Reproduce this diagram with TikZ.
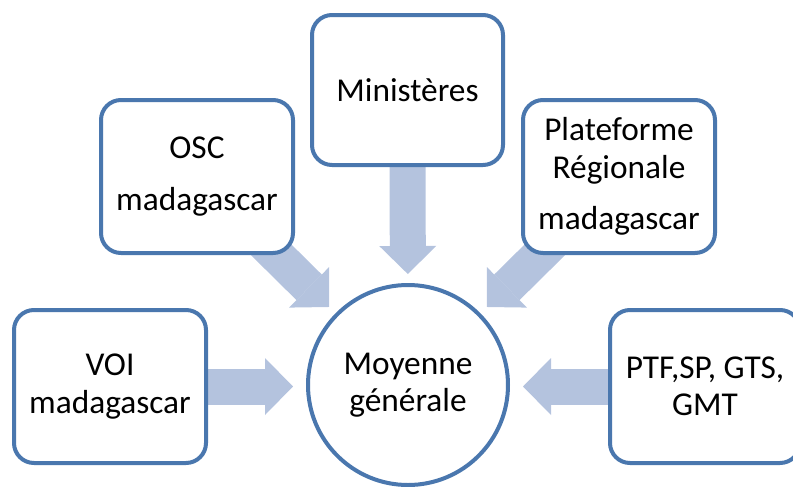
\documentclass[tikz,border=0pt]{standalone}
\usepackage{fontspec}
\setmainfont{Carlito}
\usetikzlibrary{positioning}
\usetikzlibrary{arrows.meta}
\usetikzlibrary{backgrounds}
\definecolor{boxblue}{HTML}{4A77AE}
\definecolor{arrowblue}{HTML}{B4C3DE}

\begin{document}
\begin{tikzpicture}[
    x=0.75pt, y=-0.75pt,
    font=\fontsize{25pt}{28pt}\selectfont
]
\tikzset{
    boxnode/.style = {rectangle, rounded corners=15pt, draw=boxblue, line width=3pt, fill=white, align=center, minimum width=144pt, minimum height=114.75pt, inner sep=0pt},
    circnode/.style = {circle, draw=boxblue, line width=3pt, fill=white, align=center, minimum size=150pt, inner sep=0pt},
    edgea/.style = {draw=arrowblue, line width=27pt, -{Triangle[length=21pt,width=42.75pt,line width=0pt]}}
}
\useasboundingbox (0,0) rectangle (793,486);
\node[circnode] at (408,385) (mo) {Moyenne\\générale};
\node[boxnode, minimum width=143.25pt, minimum height=112.5pt] at (407.5,90) (min) {Ministères};
\node[boxnode] at (197,176.5) (osc) {OSC\\[10.5pt]madagascar};
\node[boxnode] at (619,176.5) (plat) {Plateforme\\Régionale\\[10.5pt]madagascar};
\node[boxnode] at (110,386.5) (voi) {VOI\\madagascar};
\node[boxnode, minimum width=142.5pt] at (705,386.5) (ptf) {PTF,SP, GTS,\\GMT};
\begin{scope}[on background layer]
\draw[edgea, shorten >=6.75pt] (min.center) -- (mo);
\draw[edgea, shorten >=6.75pt] (osc.center) -- (mo);
\draw[edgea, shorten >=6.75pt] (plat.center) -- (mo);
\draw[edgea, shorten >=9.75pt] (voi.center) -- (voi.center -| mo.west);
\draw[edgea, shorten >=9.75pt] (ptf.center) -- (ptf.center -| mo.east);
\end{scope}
\end{tikzpicture}
\end{document}
